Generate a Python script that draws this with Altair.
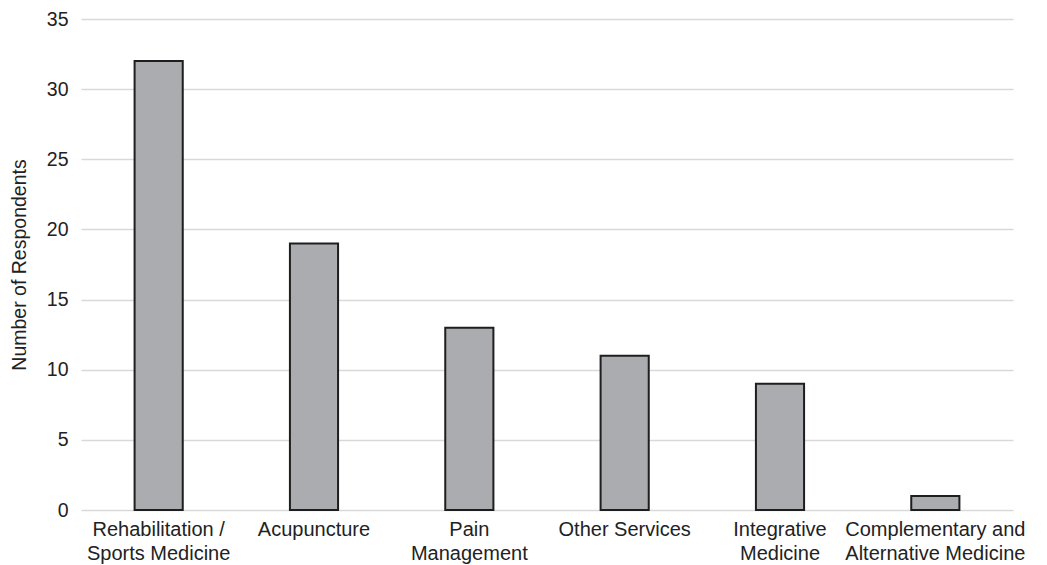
import altair as alt
import pandas as pd

categories = ["Rehabilitation /|Sports Medicine", "Acupuncture", "Pain|Management",
              "Other Services", "Integrative|Medicine", "Complementary and|Alternative Medicine"]
counts = [32, 19, 13, 11, 9, 1]
y_ticks = [0, 5, 10, 15, 20, 25, 30, 35]

df = pd.DataFrame({"cat": categories, "n": counts})

chart = alt.Chart(df).mark_bar(
    fill="#abacaf", stroke="#1e1e1e", strokeWidth=2
).encode(
    x=alt.X("cat:N", sort=categories, title=None,
            scale=alt.Scale(paddingInner=0.69, paddingOuter=0.345),
            axis=alt.Axis(labelExpr="split(datum.label, '|')", labelAngle=0,
                          labelFontSize=20, labelLineHeight=24, labelColor="#222",
                          labelFont="Liberation Sans", labelPadding=9,
                          labelLimit=400, labelOverlap=False,
                          ticks=False, domain=False, labelBaseline="top")),
    y=alt.Y("n:Q", title="Number of Respondents",
            scale=alt.Scale(domain=[0, 35]),
            axis=alt.Axis(values=y_ticks, labelFontSize=19.5, labelColor="#222",
                          labelFont="Liberation Sans", labelPadding=13,
                          ticks=False, domain=False, gridColor="#d9d9d9",
                          gridWidth=1.5, titleFont="Liberation Sans",
                          titleFontSize=19.5, titleFontWeight="normal",
                          titleColor="#222", titlePadding=17)),
).properties(
    width=932, height=491,
    autosize=alt.AutoSizeParams(type="none"),
    padding={"left": 81, "top": 19, "right": 34, "bottom": 55},
).configure_view(stroke=None)

chart.save("out.html", embed_options={"renderer": "svg", "actions": False})
